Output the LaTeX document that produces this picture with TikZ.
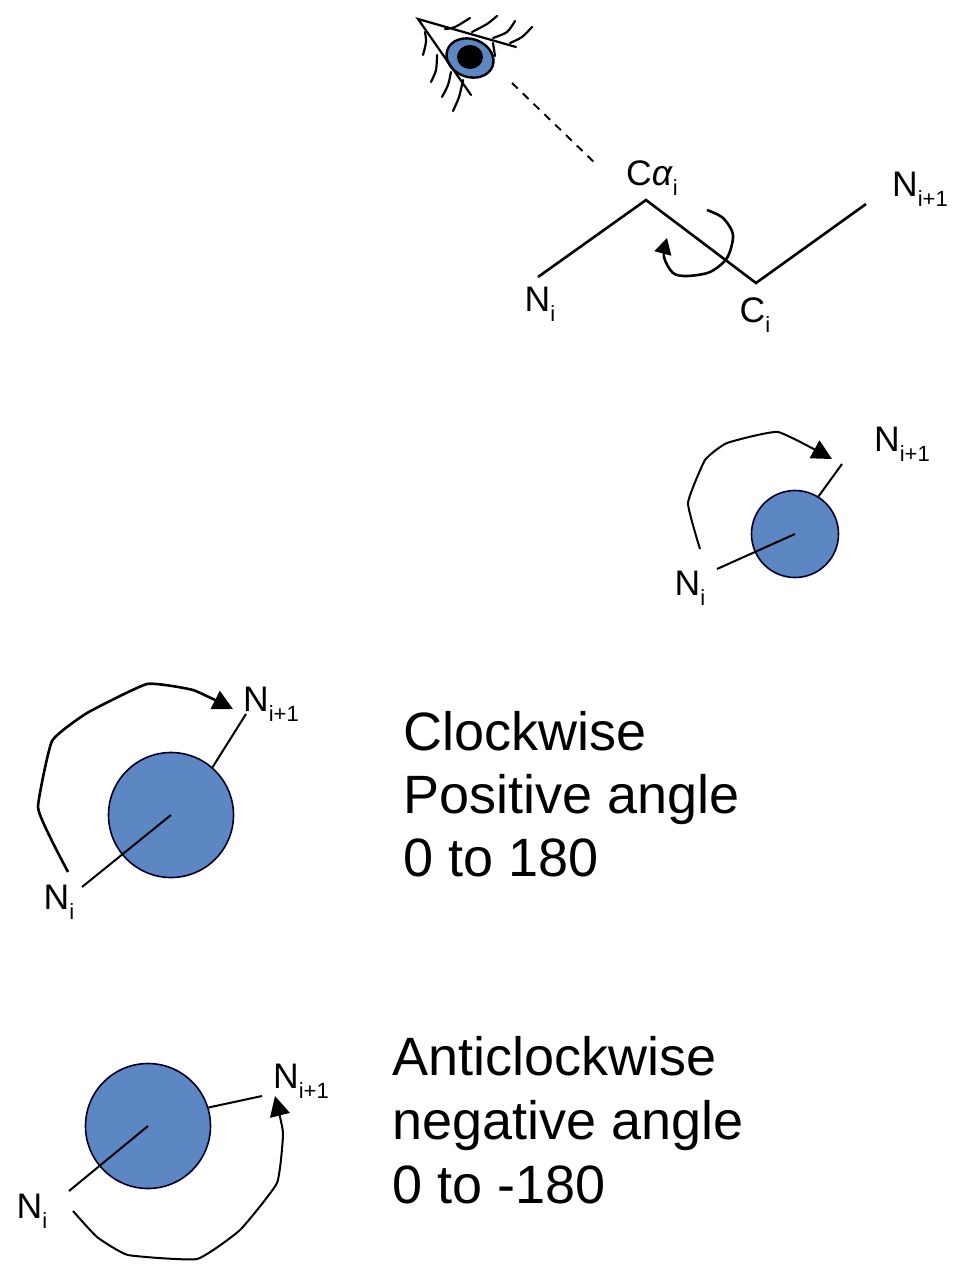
\documentclass[tikz,border=0pt]{standalone}
\usepackage{fontspec}
\setmainfont{Liberation Sans}
\usetikzlibrary{arrows.meta}
\newcommand{\subi}[1]{\raisebox{-0.28em}{\fontsize{22}{22}\selectfont #1}}
\definecolor{ballblue}{HTML}{5C87C3}
\tikzset{
  atomlabel/.style={inner sep=0pt,font=\fontsize{35.5}{40}\selectfont},
  bigtext/.style={inner sep=0pt,anchor=base west,font=\fontsize{54}{64}\selectfont},
  ball/.style={circle,draw=black!85!blue,line width=1.6pt,fill=ballblue,inner sep=0pt,minimum size=#1},
  bond/.style={line width=2.6pt},
  rodline/.style={line width=2pt},
  lash/.style={line width=2.2pt,line cap=round},
  turn/.style={line width=#1,-{Triangle[length=20pt,width=20pt]}},
}
\begin{document}
\begin{tikzpicture}[x=1pt,y=-1pt]
	\useasboundingbox (0,0) rectangle (966,1288);
	% Eye
	\draw[line width=2.4pt,fill=ballblue,rotate around={-20:(470,58)}] (470,58) ellipse (24 and 19);
	\fill (470,57) ellipse (13 and 12);
	\coordinate (eyecorner) at (418,19);
	\coordinate (lidright) at (516,47);
	\coordinate (lidlow) at (471,95);
	\draw[lash] (lidright) -- (eyecorner) -- (lidlow);
	\draw[lash] (493,43) -- (495,56);
	\draw[lash] plot[smooth] coordinates {(445,29) (455,27) (470,18)};
	\draw[lash] plot[smooth] coordinates {(472,32) (487,24) (497,16)};
	\draw[lash] plot[smooth] coordinates {(493,38) (507,32) (515,21)};
	\draw[lash] plot[smooth] coordinates {(510,43) (522,37) (532,27)};
	\draw[lash] plot[smooth] coordinates {(425,32) (426,42) (423,55)};
	\draw[lash] plot[smooth] coordinates {(437,55) (436,70) (431,82)};
	\draw[lash] plot[smooth] coordinates {(451,72) (448,85) (442,97)};
	\draw[lash] plot[smooth] coordinates {(463,80) (459,97) (453,111)};
	% Backbone
	\coordinate (sight) at (512,83);
	\coordinate (sightend) at (597,165);
	\coordinate (ni) at (538,277);
	\coordinate (ca) at (646,200);
	\coordinate (ci) at (756,283);
	\coordinate (nnext) at (866,204);
	\draw[line width=1.9pt,dash pattern=on 8pt off 7pt] (sight) -- (sightend);
	\draw[bond,line join=miter] (ni) -- (ca) -- (ci) -- (nnext);
	\draw[line width=2.6pt,-{Triangle[length=16pt,width=17pt]}] plot[smooth] coordinates {(707,210) (723,218) (733,235) (727,258) (710,272) (687,276) (673,273) (664,257) (667,238)};
	\node[atomlabel] (catext) at (652,178) {C\textit{α}\subi{i}};
	\node[atomlabel] (nitext) at (540,304) {N\subi{i}};
	\node[atomlabel] (citext) at (755,315) {C\subi{i}};
	\node[atomlabel] (nnexttext) at (920,189) {N\subi{i+1}};
	% Upper right view
	\node[ball=87pt] (ballA) at (795,534) {};
	\coordinate (aout) at (717,569);
	\coordinate (anext) at (842,464);
	\draw[rodline] (aout) -- (ballA.center);
	\draw[rodline] (ballA.58) -- (anext);
	\draw[turn=2pt] plot[smooth,tension=0.25] coordinates {(700,549) (688,503) (705,460) (727,443) (778,432) (832,459)};
	\node[atomlabel] (anitext) at (690,588) {N\subi{i}};
	\node[atomlabel] (anexttext) at (902,444) {N\subi{i+1}};
	% Clockwise
	\node[ball=125pt] (ballB) at (171,815) {};
	\coordinate (bout) at (82,887);
	\coordinate (bnext) at (246,714);
	\draw[rodline] (bout) -- (ballB.center);
	\draw[rodline] (ballB.49) -- (bnext);
	\draw[turn=2.6pt] plot[smooth,tension=0.25] coordinates {(68,872) (53,843) (38,807) (52,741) (87,713) (147,684) (193,690) (233,709)};
	\node[atomlabel] (bnitext) at (59,902) {N\subi{i}};
	\node[atomlabel] (bnexttext) at (271,704) {N\subi{i+1}};
	\node[bigtext] (cwa) at (403,750) {Clockwise};
	\node[bigtext] (cwb) at (403,813) {Positive angle};
	\node[bigtext] (cwc) at (403,876) {0 to 180};
	% Anticlockwise
	\node[ball=125pt] (ballC) at (148,1126) {};
	\coordinate (cout) at (69,1191);
	\coordinate (cnext) at (262,1096);
	\draw[rodline] (cout) -- (ballC.center);
	\draw[rodline] (ballC.17) -- (cnext);
	\draw[turn=2pt] plot[smooth,tension=0.25] coordinates {(73,1211) (97,1237) (128,1255) (197,1259) (240,1230) (277,1183) (283,1133) (275,1096)};
	\node[atomlabel] (cnitext) at (32,1211) {N\subi{i}};
	\node[atomlabel] (cnexttext) at (301,1081) {N\subi{i+1}};
	\node[bigtext] (acwa) at (392,1075) {Anticlockwise};
	\node[bigtext] (acwb) at (392,1139) {negative angle};
	\node[bigtext] (acwc) at (392,1203) {0 to -180};
\end{tikzpicture}
\end{document}
